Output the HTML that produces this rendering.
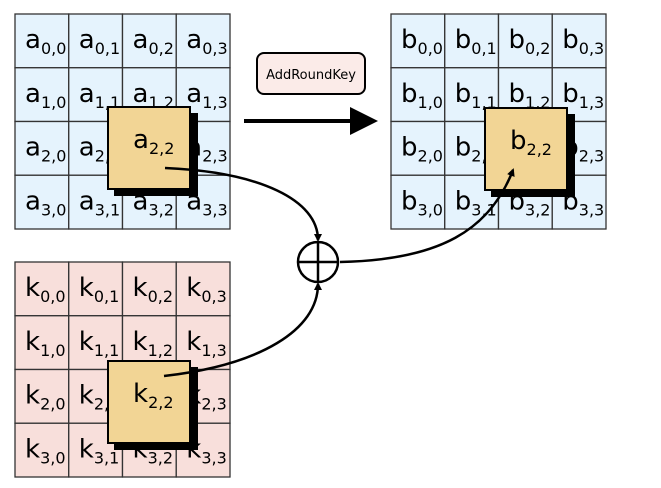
<!DOCTYPE html>
<html><head><style>html,body{margin:0;padding:0;background:#fff;}svg{display:block;}</style></head>
<body>
<svg width="661" height="488" viewBox="0 0 661 488" xmlns="http://www.w3.org/2000/svg" font-family="DejaVu Sans, Liberation Sans, sans-serif">
<defs>
<marker id="ah" markerWidth="8" markerHeight="8" refX="6" refY="4" orient="auto" markerUnits="userSpaceOnUse">
<path d="M0,0 L8,4 L0,8 Z" fill="#000"/></marker>
</defs>
<g id="grids"></g>
<!-- highlights -->
<rect x="114" y="113" width="84" height="83" fill="#000"/>
<rect x="108" y="107" width="82" height="82" fill="#f2d595" stroke="#000" stroke-width="2"/>
<text x="133" y="148" font-size="26">a<tspan font-size="16" dy="6">2,2</tspan></text>
<rect x="491" y="114" width="84" height="83" fill="#000"/>
<rect x="485" y="108" width="82" height="82" fill="#f2d595" stroke="#000" stroke-width="2"/>
<text x="510" y="149" font-size="26">b<tspan font-size="16" dy="6">2,2</tspan></text>
<rect x="114" y="367" width="84" height="83" fill="#000"/>
<rect x="108" y="361" width="82" height="82" fill="#f2d595" stroke="#000" stroke-width="2"/>
<text x="133" y="402" font-size="26">k<tspan font-size="16" dy="6">2,2</tspan></text>
<!-- AddRoundKey -->
<rect x="257" y="53" width="108" height="41" rx="7" fill="#fbebe8" stroke="#000" stroke-width="2"/>
<text x="311" y="79" font-size="13" text-anchor="middle">AddRoundKey</text>
<line x1="244" y1="121" x2="352" y2="121" stroke="#000" stroke-width="4"/>
<path d="M350,107 L378,121 L350,135 Z" fill="#000"/>
<!-- XOR -->
<circle cx="318" cy="262" r="20" fill="#fff" stroke="#000" stroke-width="2.5"/>
<line x1="298" y1="262" x2="338" y2="262" stroke="#000" stroke-width="2.5"/>
<line x1="318" y1="242" x2="318" y2="282" stroke="#000" stroke-width="2.5"/>
<path d="M165,168 C260,172 318,200 318,240" fill="none" stroke="#000" stroke-width="2.5" marker-end="url(#ah)"/>
<path d="M164,376 C260,365 318,330 318,284" fill="none" stroke="#000" stroke-width="2.5" marker-end="url(#ah)"/>
<path d="M340,262 C440,260 490,230 513,170" fill="none" stroke="#000" stroke-width="2.5" marker-end="url(#ah)"/>
</svg>
<script>
(function(){
var g=document.getElementById('grids'),ns='http://www.w3.org/2000/svg';
function grid(x0,y0,fill,ch){
 var w=53.75;
 for(var r=0;r<4;r++)for(var c=0;c<4;c++){
  var x=x0+c*w,y=y0+r*w;
  var rc=document.createElementNS(ns,'rect');
  rc.setAttribute('x',x);rc.setAttribute('y',y);rc.setAttribute('width',w);rc.setAttribute('height',w);
  rc.setAttribute('fill',fill);rc.setAttribute('stroke','#333');rc.setAttribute('stroke-width','1.3');
  g.appendChild(rc);
  var t=document.createElementNS(ns,'text');
  t.setAttribute('x',x+10);t.setAttribute('y',y+34);t.setAttribute('font-size','26');
  t.textContent=ch;
  var s=document.createElementNS(ns,'tspan');s.setAttribute('font-size','16');s.setAttribute('dy','6');
  s.textContent=r+','+c;t.appendChild(s);g.appendChild(t);
 }
}
grid(15,14,'#e5f3fd','a');
grid(391,14,'#e5f3fd','b');
grid(15,262,'#f8dfdb','k');
})();
</script>
</body></html>
